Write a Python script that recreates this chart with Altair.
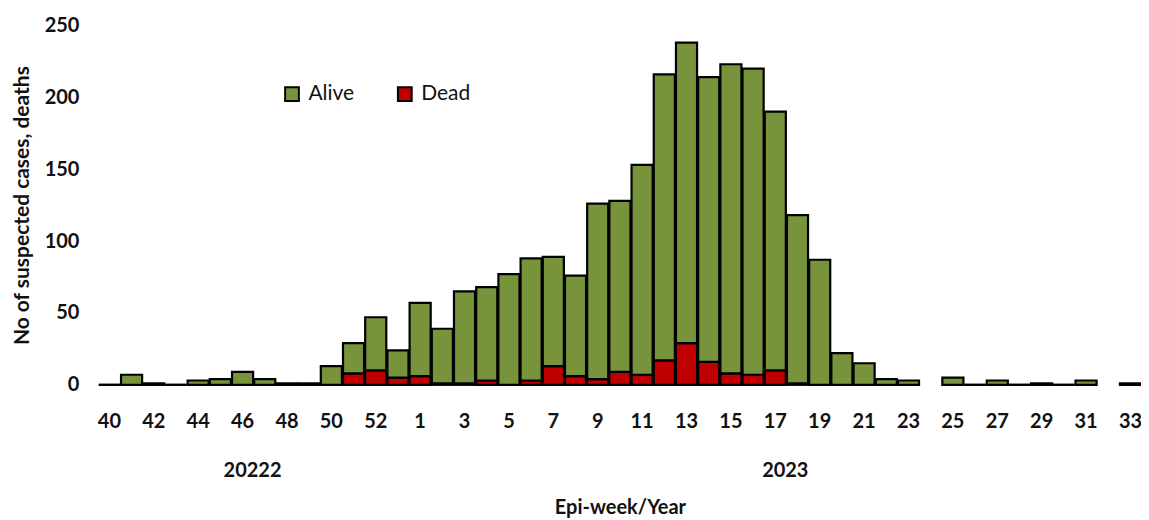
import altair as alt
import pandas as pd

weeks = ["40","41","42","43","44","45","46","47","48","49","50","51","52","53",
         "1","2","3","4","5","6","7","8","9","10","11","12","13","14","15","16",
         "17","18","19","20","21","22","23","24","25","26","27","28","29","30","31","32","33"]
# totals per week (None = no report)
totals = [0,7,1,0,3,4,9,4,1,1,13,29,47,24,
          57,39,65,68,77,88,89,76,126,128,153,216,238,214,223,220,
          190,118,87,22,15,4,3,None,5,0,3,0,1,0,3,None,1]
dead = [0,0,0,0,0,0,0,0,0,0,0,8,10,5,
        6,1,1,3,0,3,13,6,4,9,7,17,29,16,8,7,
        10,1,0,0,0,0,0,None,0,0,0,0,0,0,0,None,0]
tick_labels = ["40","42","44","46","48","50","52","1","3","5","7","9","11","13",
               "15","17","19","21","23","25","27","29","31","33"]
year_labels = ["20222", "2023"]
year_anchor = ["46", "17"]

rows = []
for w, t, d in zip(weeks, totals, dead):
    if t is None:
        continue
    rows.append({"week": w, "status": "Dead", "n": d, "ord": 0})
    rows.append({"week": w, "status": "Alive", "n": t - d, "ord": 1})
df = pd.DataFrame(rows)

FONT = "Lato"

x = alt.X("week:N", sort=weeks,
          scale=alt.Scale(domain=weeks, paddingInner=0.05, paddingOuter=0.0),
          axis=alt.Axis(values=tick_labels, labelAngle=0, domain=False, ticks=False,
                        labelPadding=27, labelFontSize=20, labelFontWeight="bold",
                        labelFont=FONT, labelColor="#111",
                        title="Epi-week/Year", titleFontSize=20, titleFont=FONT,
                        titleFontWeight="bold", titleColor="#111", titlePadding=66))

bars = alt.Chart(df).mark_bar(stroke="black", strokeWidth=2.2).encode(
    x=x,
    y=alt.Y("n:Q", stack="zero",
            scale=alt.Scale(domain=[0, 250], nice=False),
            axis=alt.Axis(values=[0, 50, 100, 150, 200, 250], domain=False, ticks=False,
                          grid=False, labelPadding=20, labelFontSize=20,
                          labelFontWeight="bold", labelFont=FONT, labelColor="#111",
                          title="No of suspected cases, deaths", titleFontSize=21,
                          titleFont=FONT, titleFontWeight="bold", titleColor="#111",
                          titlePadding=12)),
    color=alt.Color("status:N",
                    scale=alt.Scale(domain=["Alive", "Dead"], range=["#77933C", "#C00000"]),
                    legend=alt.Legend(title=None, orient="none", legendX=183, legendY=58,
                                      direction="horizontal", symbolType="square",
                                      symbolSize=190, symbolStrokeColor="black",
                                      symbolStrokeWidth=2, symbolOpacity=1,
                                      labelFontSize=21, labelFont=FONT, labelColor="#111",
                                      columnPadding=39, labelOffset=6)),
    order=alt.Order("ord:Q", sort="ascending"),
)

years = alt.Chart(pd.DataFrame({"label": year_labels, "week": year_anchor})).mark_text(
    fontSize=20, fontWeight="bold", font=FONT, color="#111", dx=10
).encode(
    x=alt.X("week:N", sort=weeks),
    y=alt.value(446),
    text="label:N",
)

chart = alt.layer(bars, years).properties(
    width=1044, height=360,
    autosize=alt.AutoSizeParams(type="none"),
    padding={"left": 91, "top": 17, "right": 0, "bottom": 150},
).configure_view(stroke=None)

chart.save("out.html", embed_options={"renderer": "svg", "actions": False})
